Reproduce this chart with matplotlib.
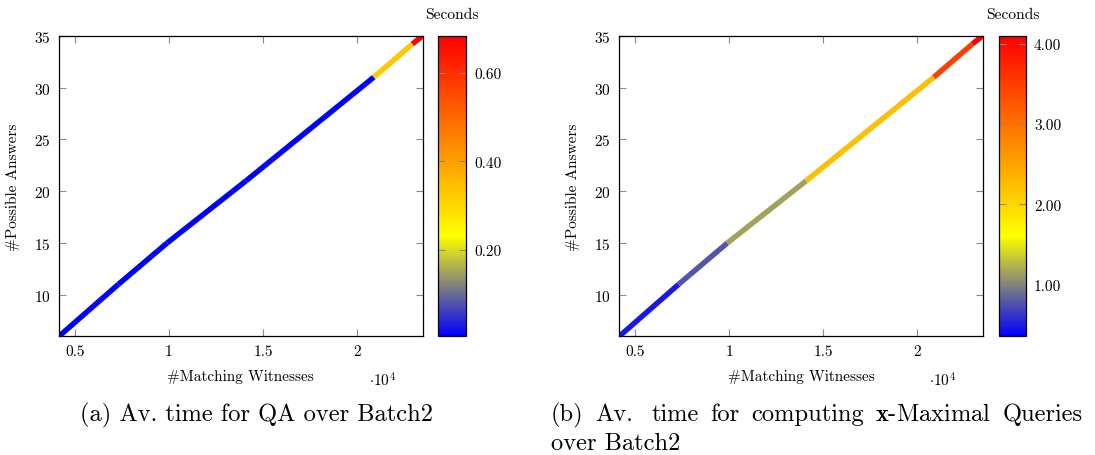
import numpy as np
import matplotlib
matplotlib.use("Agg")
import matplotlib.pyplot as plt
from matplotlib.collections import LineCollection
from matplotlib.colors import LinearSegmentedColormap, Normalize
from matplotlib.ticker import FuncFormatter, FormatStrFormatter

plt.rcParams['font.family'] = ['cmr10', 'DejaVu Serif']
plt.rcParams['mathtext.fontset'] = 'cm'
plt.rcParams['axes.formatter.use_mathtext'] = True

# data
witnesses = [4150, 7300, 9900, 14100, 20900, 22950, 23500]
answers = [6, 11, 15, 21, 31, 34.2, 35]
# average seconds, one value per segment between consecutive points
qa_time = [0.006, 0.006, 0.006, 0.006, 0.33, 0.684]
qa_range = (0.004, 0.684)
xmax_time = [0.48, 0.77, 1.16, 2.23, 3.48, 4.10]
xmax_range = (0.36, 4.10)

x_ticks = [5000, 10000, 15000, 20000]
y_ticks = [10, 15, 20, 25, 30, 35]
qa_cticks = [0.2, 0.4, 0.6]
xmax_cticks = [1, 2, 3, 4]

W, H = 1095, 456
cmap = LinearSegmentedColormap.from_list('bluered', ['blue', 'yellow', (1, 0.5, 0), 'red'])
GRAY = '#8a8a8a'
FS = 11

fig = plt.figure(figsize=(W / 100, H / 100), dpi=100)


def box(l, t, r, b):
    return [l / W, 1 - b / H, (r - l) / W, (b - t) / H]


def panel(ax_box, cb_box, times, crange, cticks):
    ax = fig.add_axes(box(*ax_box))
    pts = np.column_stack([witnesses, answers])
    segs = np.stack([pts[:-1], pts[1:]], axis=1)
    lc = LineCollection(segs, cmap=cmap, norm=Normalize(*crange),
                        linewidths=3.9, capstyle='butt')
    lc.set_array(np.array(times))
    ax.add_collection(lc)
    ax.set_xlim(min(witnesses), max(witnesses))
    ax.set_ylim(min(answers), max(answers))
    ax.set_xticks(x_ticks)
    ax.set_yticks(y_ticks)
    ax.xaxis.set_major_formatter(FuncFormatter(lambda v, p: '%g' % (v / 1e4)))
    ax.tick_params(direction='in', length=5, width=0.8, color=GRAY,
                   top=True, right=True, labelsize=FS, pad=6)
    for s in ax.spines.values():
        s.set_linewidth(0.9)
    ax.set_xlabel('#Matching Witnesses', fontsize=FS, labelpad=8)
    ax.set_ylabel('#Possible Answers', fontsize=FS, labelpad=10)
    ax.text(0.89, -0.145, r'$\cdot 10^{4}$', transform=ax.transAxes,
            fontsize=FS, ha='center', va='center')

    cax = fig.add_axes(box(*cb_box))
    cb = fig.colorbar(lc, cax=cax)
    cb.set_ticks(cticks)
    cb.ax.yaxis.set_major_formatter(FormatStrFormatter('%.2f'))
    cb.ax.tick_params(direction='in', length=5, width=0.8, color=GRAY,
                      left=True, right=True, labelsize=FS, pad=6)
    cb.outline.set_linewidth(0.9)
    cb.ax.set_title('Seconds', fontsize=11.2, pad=13)
    return ax


panel((59, 36.7, 422.7, 337.3), (438.3, 36.7, 465.7, 337.3),
      qa_time, qa_range, qa_cticks)
panel((619.3, 36.7, 982.7, 337.3), (999, 36.7, 1025.7, 337.3),
      xmax_time, xmax_range, xmax_cticks)

CAP = 17.6
fig.text(256.5 / W, 1 - 421 / H, '(a) Av. time for QA over Batch2',
         fontsize=CAP, ha='center', va='baseline')

# justified first line of caption (b)
words = ['(b)', 'Av.', 'time', 'for', 'computing', r'$\mathbf{x}$-Maximal', 'Queries']
weights = [1, 1.6, 1, 1, 1, 1]
left, right = 551, 1083
rend = fig.canvas.get_renderer()
objs = [fig.text(0, 1 - 421 / H, w, fontsize=CAP, ha='left', va='baseline') for w in words]
widths = [o.get_window_extent(rend).width for o in objs]
gap = (right - left - sum(widths)) / sum(weights)
xpos = left
for i, o in enumerate(objs):
    o.set_x(xpos / W)
    xpos += widths[i] + (gap * weights[i] if i < len(weights) else 0)
fig.text(left / W, 1 - 450 / H, 'over Batch2', fontsize=CAP, ha='left', va='baseline')

fig.savefig('out.png', dpi=100)
